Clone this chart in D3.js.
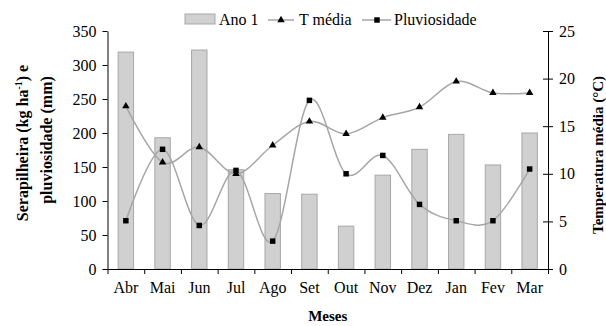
<html><head>
<meta charset="utf-8">
<script src="https://d3js.org/d3.v7.min.js"></script>
<style>
  body { margin: 0; background: #fff; }
  svg text { font-family: "Liberation Serif", "DejaVu Serif", "Times New Roman", Times, serif !important; }
</style>
</head>
<body>
<div id="chart"></div>
<script>
// data
var months = ["Abr", "Mai", "Jun", "Jul", "Ago", "Set", "Out", "Nov", "Dez", "Jan", "Fev", "Mar"];
var ano1 = [319, 193, 322, 146, 111, 110, 63, 138, 176, 198, 153, 200];
var tMedia = [17.1, 11.2, 12.8, 10.0, 13.0, 15.5, 14.2, 15.9, 17.0, 19.7, 18.5, 18.5];
var pluv = [71, 176, 64, 145, 41, 248, 140, 167, 95, 71, 71, 147];
var leftTicks = [0, 50, 100, 150, 200, 250, 300, 350];
var rightTicks = [0, 5, 10, 15, 20, 25];

var W = 606, H = 326;
var margin = {top: 31, right: 58, bottom: 57, left: 107.5};
var width = W - margin.left - margin.right;
var height = H - margin.top - margin.bottom;

var svg = d3.select("#chart").append("svg")
    .attr("width", W).attr("height", H);
var g = svg.append("g")
    .attr("transform", "translate(" + margin.left + "," + margin.top + ")");

var x = d3.scaleBand().domain(months).range([0, width]).paddingInner(0.58).paddingOuter(0.29);
var xb = d3.scaleLinear().domain([0, months.length]).range([0, width]);
var yL = d3.scaleLinear().domain([0, 350]).range([height, 0]);
var yR = d3.scaleLinear().domain([0, 25]).range([height, 0]);

function cx(m) { return x(m) + x.bandwidth() / 2; }

// bars
g.selectAll("rect.bar").data(ano1).enter().append("rect")
    .attr("class", "bar")
    .attr("x", function(d, i) { return x(months[i]); })
    .attr("y", function(d) { return yL(d); })
    .attr("width", x.bandwidth())
    .attr("height", function(d) { return height - yL(d); })
    .attr("fill", "#d0d0d0")
    .attr("stroke", "#a8a8a8")
    .attr("stroke-width", 1);

// smoothed lines
var lineT = d3.line()
    .x(function(d, i) { return cx(months[i]); })
    .y(function(d) { return yR(d); })
    .curve(d3.curveCatmullRom.alpha(0));
var lineP = d3.line()
    .x(function(d, i) { return cx(months[i]); })
    .y(function(d) { return yL(d); })
    .curve(d3.curveCatmullRom.alpha(0));

g.append("path").datum(tMedia)
    .attr("fill", "none").attr("stroke", "#a6a6a6").attr("stroke-width", 1.5)
    .attr("d", lineT);
g.append("path").datum(pluv)
    .attr("fill", "none").attr("stroke", "#a6a6a6").attr("stroke-width", 1.5)
    .attr("d", lineP);

var tri = d3.symbol().type(d3.symbolTriangle).size(24);
var sq = d3.symbol().type(d3.symbolSquare).size(30);

g.selectAll("path.tri").data(tMedia).enter().append("path")
    .attr("class", "tri")
    .attr("d", tri)
    .attr("transform", function(d, i) { return "translate(" + cx(months[i]) + "," + yR(d) + ")"; })
    .attr("fill", "#000");
g.selectAll("path.sq").data(pluv).enter().append("path")
    .attr("class", "sq")
    .attr("d", sq)
    .attr("transform", function(d, i) { return "translate(" + cx(months[i]) + "," + yL(d) + ")"; })
    .attr("fill", "#000");

// axes
var axL = g.append("g")
    .call(d3.axisLeft(yL).tickValues(leftTicks).tickSize(5).tickSizeOuter(0).tickPadding(6));
var axR = g.append("g")
    .attr("transform", "translate(" + width + ",0)")
    .call(d3.axisRight(yR).tickValues(rightTicks).tickSize(5).tickSizeOuter(0).tickPadding(6));
axR.selectAll(".tick line").attr("x1", -5);

var axB = g.append("g")
    .attr("transform", "translate(0," + height + ")")
    .call(d3.axisBottom(xb).ticks(months.length).tickFormat("").tickSize(5).tickSizeOuter(0));
var axM = g.append("g")
    .attr("transform", "translate(0," + height + ")")
    .call(d3.axisBottom(x).tickSize(0).tickPadding(13));
axM.select(".domain").remove();

[axL, axR, axB, axM].forEach(function(a) {
  a.attr("font-family", null).attr("font-size", null);
  a.selectAll("text").style("font-size", "16px").attr("fill", "#000");
  a.selectAll("line, path").attr("stroke", "#000");
});
axB.select(".domain").attr("stroke-width", 1.2);

// axis titles
svg.append("text")
    .attr("x", margin.left + width / 2).attr("y", 321)
    .attr("text-anchor", "middle")
    .style("font-size", "15px").style("font-weight", "bold")
    .text("Meses");

var lt = svg.append("text")
    .attr("transform", "translate(28,143) rotate(-90)")
    .attr("text-anchor", "middle")
    .style("font-size", "16px").style("font-weight", "bold");
lt.append("tspan").text("Serapilheira (kg ha");
lt.append("tspan").attr("dy", -6).style("font-size", "10px").text("-1");
lt.append("tspan").attr("dy", 6).text(") e");
svg.append("text")
    .attr("transform", "translate(52,140) rotate(-90)")
    .attr("text-anchor", "middle")
    .style("font-size", "16px").style("font-weight", "bold")
    .text("pluviosidade (mm)");

svg.append("text")
    .attr("transform", "translate(603,155) rotate(-90)")
    .attr("text-anchor", "middle")
    .style("font-size", "15px").style("font-weight", "bold")
    .text("Temperatura média (°C)");

// legend
var lg = svg.append("g");
lg.append("rect").attr("x", 185).attr("y", 14).attr("width", 30).attr("height", 10)
    .attr("fill", "#d0d0d0").attr("stroke", "#a8a8a8");
lg.append("text").attr("x", 219).attr("y", 25).style("font-size", "16px").text("Ano 1");
lg.append("line").attr("x1", 268).attr("x2", 294).attr("y1", 20).attr("y2", 20)
    .attr("stroke", "#a6a6a6").attr("stroke-width", 1.5);
lg.append("path").attr("d", tri).attr("transform", "translate(281,20)");
lg.append("text").attr("x", 299).attr("y", 25).style("font-size", "16px").text("T média");
lg.append("line").attr("x1", 362).attr("x2", 391).attr("y1", 20).attr("y2", 20)
    .attr("stroke", "#a6a6a6").attr("stroke-width", 1.5);
lg.append("path").attr("d", sq).attr("transform", "translate(377,20)");
lg.append("text").attr("x", 394).attr("y", 25).style("font-size", "16px").text("Pluviosidade");
</script>
</body></html>
